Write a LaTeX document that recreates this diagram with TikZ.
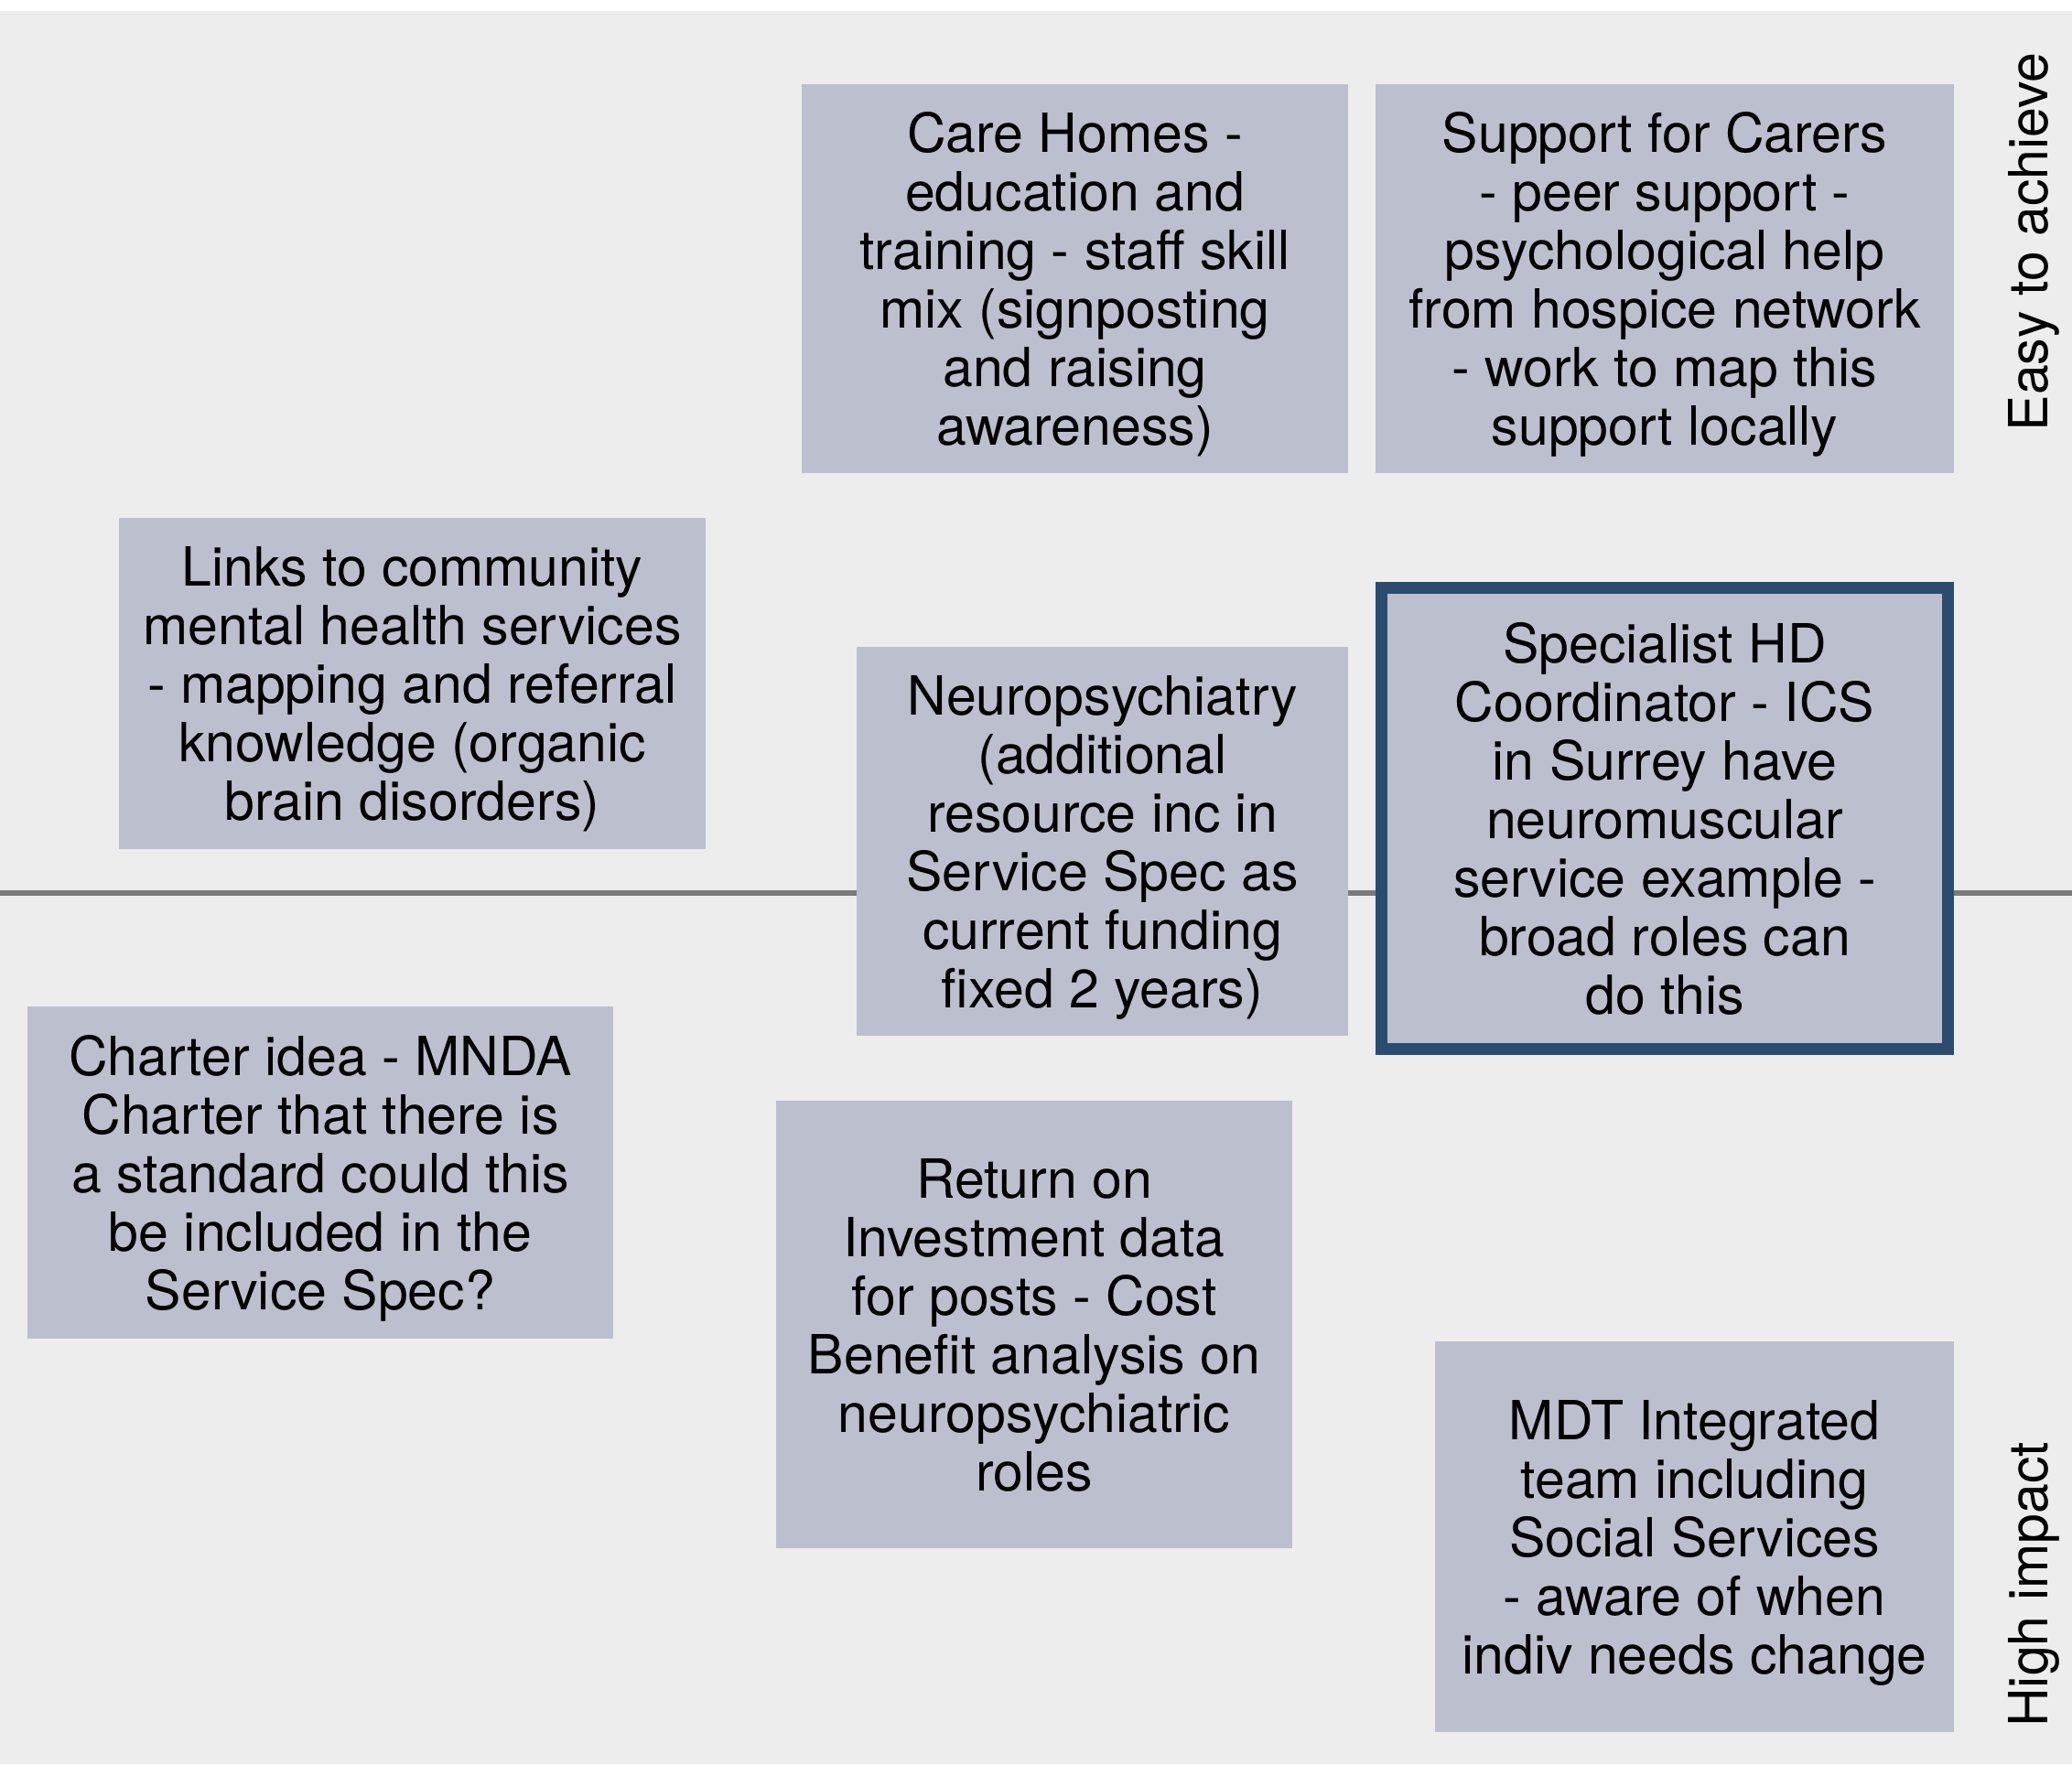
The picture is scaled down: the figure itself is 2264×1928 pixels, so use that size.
\documentclass[tikz,border=0pt]{standalone}
\usepackage{fontspec}
\setmainfont{TeX Gyre Heros}
\definecolor{panelgrey}{RGB}{237,237,237}
\definecolor{cardfill}{RGB}{188,191,206}
\definecolor{keyblue}{RGB}{43,76,111}
\definecolor{axisgrey}{RGB}{122,122,122}
\tikzset{
  card/.style={fill=cardfill, inner sep=0pt, outer sep=0pt, align=center,
    text=black, text depth=0pt, font=\fontsize{29.5pt}{32pt}\selectfont,
    execute at begin node={\rule{0pt}{26.5pt}}},
  keycard/.style={card, draw=keyblue, line width=6.5pt},
  axislabel/.style={rotate=90, inner sep=0pt, text=black,
    font=\fontsize{29.5pt}{32pt}\selectfont},
  axisline/.style={draw=axisgrey, line width=2.7pt}
}
\begin{document}
\begin{tikzpicture}[x=0.5pt,y=-0.5pt]
  \useasboundingbox (0,0) rectangle (2264,1928);
  % page and panel
  \fill[white] (0,0) rectangle (2264,12);
  \fill[panelgrey] (0,12) rectangle (2264,1928);

  % horizontal axis across the panel
  \coordinate (axisL) at (0,976);
  \coordinate (axisR) at (2264,976);
  \draw[axisline] (axisL) -- (axisR);

  % idea cards
  \node[card, minimum width=298.5pt, minimum height=212.5pt] (care) at (1174.5,304.5)
    {Care Homes -\\education and\\training - staff skill\\mix (signposting\\and raising\\awareness)};
  \node[card, minimum width=316pt, minimum height=212.5pt] (carers) at (1819,304.5)
    {Support for Carers\\- peer support -\\psychological help\\from hospice network\\- work to map this\\support locally};
  \node[card, minimum width=320.5pt, minimum height=181pt] (links) at (450.5,747)
    {Links to community\\mental health services\\- mapping and referral\\knowledge (organic\\brain disorders)};
  \node[card, minimum width=268.5pt, minimum height=212.5pt] (neuro) at (1204.5,919.5)
    {Neuropsychiatry\\(additional\\resource inc in\\Service Spec as\\current funding\\fixed 2 years)};
  \node[keycard, minimum width=309.5pt, minimum height=252pt] (coord) at (1819,894.5)
    {Specialist HD\\Coordinator - ICS\\in Surrey have\\neuromuscular\\service example -\\broad roles can\\do this};
  \node[card, minimum width=320pt, minimum height=181.5pt] (charter) at (350,1281.5)
    {Charter idea - MNDA\\Charter that there is\\a standard could this\\be included in the\\Service Spec?};
  \node[card, minimum width=282pt, minimum height=244.5pt] (roi) at (1130,1447.5)
    {Return on\\Investment data\\for posts - Cost\\Benefit analysis on\\neuropsychiatric\\roles};
  \node[card, minimum width=283.5pt, minimum height=213.5pt] (mdt) at (1851.5,1679.5)
    {MDT Integrated\\team including\\Social Services\\- aware of when\\indiv needs change};

  % axis labels along the right edge
  \node[axislabel, anchor=base east] (easy) at (2237,57) {Easy to achieve};
  \node[axislabel, anchor=base west] (impact) at (2237,1888) {High impact};
\end{tikzpicture}
\end{document}
